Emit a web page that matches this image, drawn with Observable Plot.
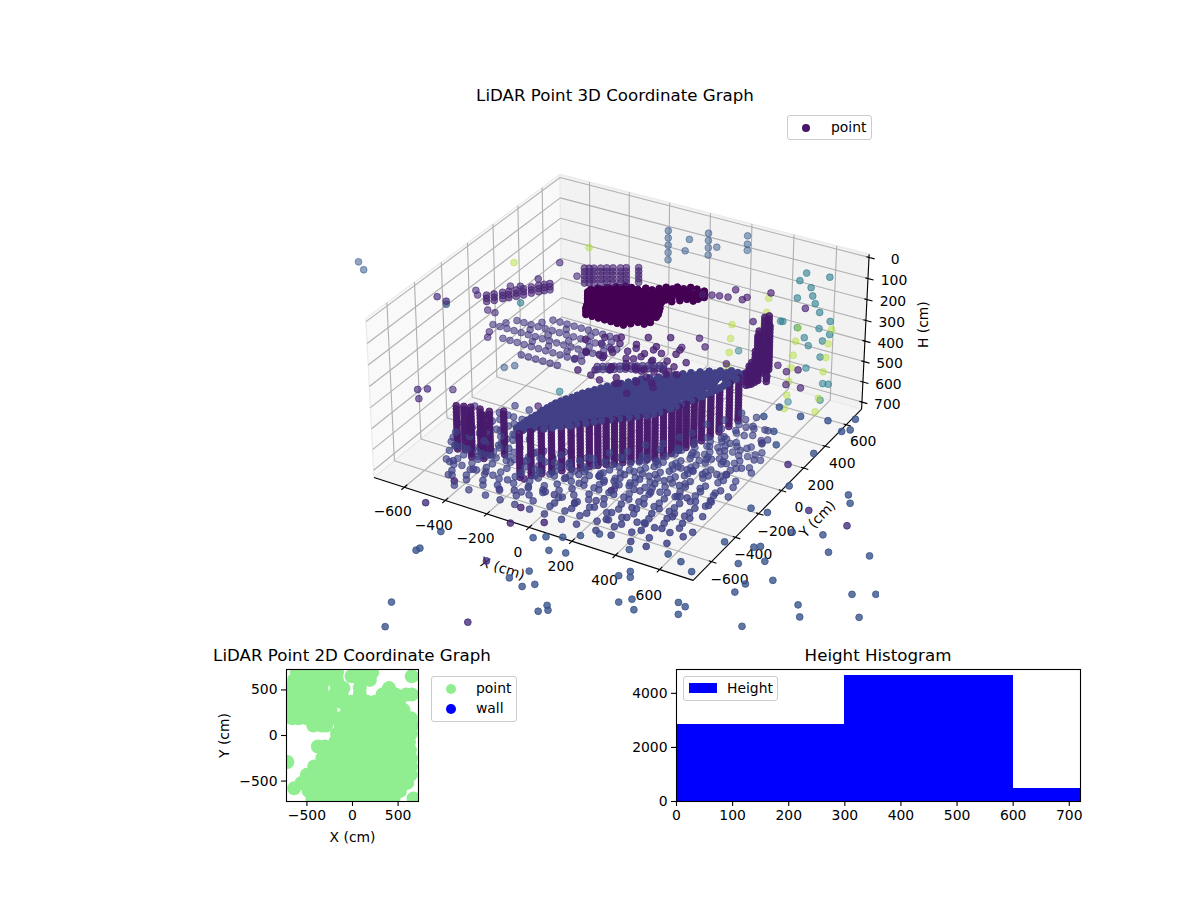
<!DOCTYPE html>
<html><head><meta charset="utf-8">
<script src="https://cdn.jsdelivr.net/npm/d3@7"></script>
<script src="https://cdn.jsdelivr.net/npm/@observablehq/plot@0.6"></script>
<style>
html,body{margin:0;padding:0;background:#fff;font-family:"DejaVu Sans",sans-serif;color:#000}
#page{position:relative;width:1200px;height:900px;overflow:hidden}
#page svg{position:absolute}
.t{position:absolute;transform:translateX(-50%);font-size:16.67px;white-space:nowrap;line-height:20px}
.lg{position:absolute;background:rgba(255,255,255,.8);border:1px solid #ccc;border-radius:3px;box-sizing:border-box;font-size:13.9px}
.lg span{position:absolute;line-height:16px;white-space:nowrap}
.lg i{position:absolute;display:block;border-radius:50%}
.lg b{position:absolute;display:block}
</style></head><body><div id="page"></div>
<script>
// ---------- chart values (X cm, Y cm, H cm) ----------
const xTicks=[-600,-400,-200,0,200,400,600];
const yTicks=[-600,-400,-200,0,200,400,600];
const hTicks=[0,100,200,300,400,500,600,700];

const plateHeights=[170,185,200];
const plateRows=[
[50,[-205,-175,-145,-115,-85,-55,-25]],
[75,[-215,-185,-155,-125,-95,-65,-35,-5]],
[100,[-225,-195,-165,-135,-105,-75,-45,-15,15,45]],
[125,[-240,-210,-180,-150,-120,-90,-60,-30,0,30,60]],
[150,[-255,-225,-195,-165,-135,-105,-75,-45,-15,15,45]],
[175,[-270,-240,-210,-180,-150,-120,-90,-60,-30,0,30,60]],
[200,[-270,-250,-220,-190,-160,-130,-100,-70,-40,-10,20,55]],
[225,[-250,-230,-200,-170,-140,-110,-80,-50,-20,10,45]],
[250,[-220,-200,-185,-155,-125,-95,-65,-35,-5,35]],
[275,[-190,-170,-140,-110,-80,-50,-20,10]],
[300,[-160,-130,-100,-70,-40,-10,15]],
[325,[-75,-45,-15,20,50]],
[350,[-25,5,35,75]],
[375,[-5,25,60,95,125]],
[400,[35,65,100,135]],
[425,[85,115,150]]];

const sheetHeights=[500];
const sheetRows=[
[-450,[-240,-210]],
[-425,[-240,-210,-180]],
[-400,[-235,-205,-175,-140]],
[-375,[-235,-205,-175,-145,-115]],
[-350,[-230,-200,-170,-140,-110,-90]],
[-325,[-225,-195,-165,-135,-105,-75,-60]],
[-300,[-220,-190,-160,-130,-100,-70,-45]],
[-275,[-220,-190,-160,-130,-100,-70,-40,-15]],
[-250,[-215,-185,-155,-125,-95,-65,-35,-5,10]],
[-225,[-210,-180,-150,-120,-90,-60,-30,0,30]],
[-200,[-205,-175,-145,-115,-85,-55,-25,5,35,57]],
[-175,[-195,-165,-135,-105,-75,-45,-15,15,45,85]],
[-150,[-185,-155,-125,-95,-65,-35,-5,25,55,85,115]],
[-125,[-170,-140,-110,-80,-50,-20,10,40,70,100,140]],
[-100,[-160,-130,-100,-70,-40,-10,20,50,80,110,140,170]],
[-75,[-150,-120,-90,-60,-30,0,30,60,90,120,150,190]],
[-50,[-135,-105,-75,-45,-15,15,45,75,105,135,165,205]],
[-25,[-120,-90,-60,-30,0,30,60,90,120,150,180,215]],
[0,[-105,-75,-45,-15,15,45,75,105,135,165,195,230]],
[25,[-90,-60,-30,0,30,60,90,120,150,180,210,240]],
[50,[-70,-40,-10,20,50,80,110,140,170,200,230,250]],
[75,[-50,-20,10,40,70,100,130,160,190,220,260]],
[100,[-30,0,30,60,90,120,150,180,210,240,272]],
[125,[-10,20,50,80,110,140,170,200,230,260,285]],
[150,[5,35,65,95,125,155,185,215,245,275,295]],
[175,[30,60,90,120,150,180,210,240,270,300]],
[200,[60,90,120,150,180,210,240,270,310]],
[225,[85,115,145,175,205,235,265,295,320]],
[250,[110,140,170,200,230,260,290,325]],
[275,[135,165,195,225,255,285,330]],
[300,[160,190,220,250,280,335]],
[325,[190,220,250,280,310,340]],
[350,[220,250,280,310,350]],
[375,[260,290,320,352]],
[400,[300,330,355]]];

const wallLevels=[505,520,535,550,565,580,595,610,625,640,655,670,685,700,715];
const wallColumns=[
[-212,-475],[-180,-440],[-150,-405],[-120,-375],[-90,-345],[-62,-315],[-35,-288],[-8,-260],
[18,-235],[44,-212],[70,-188],[96,-165],[122,-142],[148,-118],[172,-95],[196,-72],
[215,-35],[235,0],[250,35],[265,70],[280,110],[295,150],[310,200],[325,250],[340,310],[352,370],
[-555,-416],[-525,-405],[-497,-396],[-455,-390],[-412,-386],[-362,-355],[-470,-440],[-420,-425]];

const towerLevels=[250,265,280,295,310,325,340,355,370,385,400,415,430,445,460,475,490,505,520,535,550];
const towerColumns=[
[410,480,250,520],[420,500,250,500],[400,440,320,540],[385,420,440,550],[370,400,480,550],[415,520,300,520],[395,460,300,550],[390,440,400,550],[378,410,460,550],[430,470,340,550]];

const arcRows=[
[-150,[-400,-365,-330,-295,-260,-225]],
[-70,[-540,-505,-470,-435,-400,-365,-330,-295,-260,-225,-190,-155]],
[10,[-640,-605,-570,-535,-500,-465,-430,-395,-360,-325,-290,-255,-220,-185,-150,-115]],
[90,[-570,-535,-500,-465,-430,-395,-360,-325,-290,-255,-220,-185,-150,-115,-80]],
[170,[-440,-405,-370,-335,-300,-265,-230,-195,-160]],
[-30,[-420,-340,-250,-180]],
[50,[-600,-480,-390,-290,-190,-120]],
[130,[-470,-350,-230,-130]]];
const arcHeight=350;

const bandHeights=[380,395];
const bandPoints=[[-104,-31],[-84,-19],[-64,-6],[-44,6],[-24,19],[-4,31],[16,44],[36,56],[56,69],[76,81],[96,94],[116,106],[131,115]];

const backArcHeights=[90,105,120];
const backArc=[[-542,-184],[-520,-160],[-498,-130],[-480,-110],[-460,-85],[-440,-60],[-420,-30],[-400,-5],[-385,15],[-368,33]];
const backColumnHeights=[55,72,90,108,125];
const backColumns=[[-279,164],[-245,185],[-221,200],[-177,227],[-130,256],[-86,283],[-262,175],[-200,214],[-150,242]];

const clutterRows=[
[-680,700,[-400,-330,-250,-180,-110,-40,30,110,180,270,340,430,500]],
[-620,700,[-450,-380,-300,-220,-140,-60,20,90,160,240,320,400,480,560]],
[-560,690,[-480,-400,-330,-260,-190,-120,-50,25,100,170,250,320,390,470,540,600]],
[-500,700,[-500,-430,-360,-290,-220,-150,-80,-10,60,130,200,270,340,410,480,550,610]],
[-440,680,[-520,-440,-370,-300,-230,-160,-90,-20,50,120,190,260,330,400,470,540]],
[-380,700,[-470,-400,-330,-250,-180,-100,-30,40,110,180,250,320,390,460,530,590]],
[-320,690,[-400,-310,-240,-150,-70,10,80,150,220,290,360,430,500,570]],
[-260,700,[140,210,280,350,420,490,560]],
[-200,700,[200,270,340,410,480,550,610]],
[-140,690,[250,320,390,460,530,600]],
[-80,700,[300,370,440,510,580]],
[-20,680,[340,410,480,550,620]],
[40,700,[370,440,510,580]],
[100,690,[400,470,540,600]],
[170,700,[420,500,570]],
[240,690,[450,530]],
[-650,655,[-430,-360,-280,-210,-130,-60,60,140,210,300,370,460]],
[-590,660,[-480,-420,-350,-270,-200,-100,-20,60,130,210,290,360,440,520]],
[-530,650,[-520,-450,-380,-310,-240,-170,-90,0,70,150,220,300,370,440,510,580]],
[-470,660,[-530,-470,-400,-330,-260,-190,-120,-50,30,90,160,230,300,370,440,510,580]],
[-410,650,[-560,-490,-420,-350,-280,-210,-130,-60,10,80,150,220,290,360,430,500,570]],
[-350,660,[-540,-440,-370,-290,-210,-130,-50,20,110,190,260,340,410,470,540,600]],
[-290,650,[-520,-440,-360,-280,-80,30,120,200,260,330,400,460,530,590]],
[-230,660,[-500,-420,-350,170,240,310,380,450,520,590]],
[-170,650,[-460,-390,220,290,360,430,500,570]],
[-110,660,[270,340,410,480,550]],
[-50,650,[310,380,450,520,590]],
[10,660,[340,410,480,550]],
[70,650,[380,450,520,590]],
[130,660,[400,470,540]],
[200,650,[430,510,580]],
[280,660,[470,540]],
[-450,610,[-540,-470,-400,-330,-280,-130,-60,10,80,150,220,290]],
[-400,600,[-560,-490,-420,-350,-290,-60,30,100,170,240,310,380]],
[-340,615,[-540,-460,-390,-320,40,110,180,250,320,390,460]],
[-280,605,[-500,-430,-360,-290,100,170,240,310,380,450]],
[-220,615,[-470,-400,-330,150,220,290,360,430,500]],
[-160,600,[-430,-360,200,270,340,410,480]],
[-100,610,[250,320,390,460,530]],
[-30,605,[290,360,430,500]],
[40,615,[310,380,450,520]],
[110,600,[340,410,480]],
[190,610,[380,450,520]],
[270,605,[420,490]]];

const clutterLoose=[[-455,-640,688],[-375,-575,672],[-292,-608,640],[-205,-645,676],[-128,-600,690],[-42,-572,668],[38,-615,642],[115,-585,676],[196,-552,655],[282,-602,690],
[358,-545,640],[437,-578,672],[515,-495,660],[-512,-500,640],[-418,-470,680],[-345,-515,628],[-268,-428,672],[-185,-462,632],[-108,-525,648],[-22,-428,682],
[62,-462,622],[142,-398,668],[218,-436,640],[296,-372,676],[372,-418,632],[452,-342,668],[522,-388,628],[588,-305,672],[-478,-365,642],[-382,-305,672],
[-295,-345,622],[-205,-300,680],[-118,-278,668],[-32,-245,690],[48,-210,682],[128,-240,640],[208,-172,668],[282,-215,628],[358,-142,672],[438,-190,632],
[512,-118,668],[582,-165,622],[310,-82,632],[392,-48,676],[468,-12,628],[545,-62,668],[612,18,640],[365,68,676],[442,95,632],[518,62,672],
[590,128,628],[398,158,668],[472,212,628],[552,205,676],[438,272,632],[520,292,668],[-560,-455,660],[-590,-395,680],[-530,-540,690],[-462,-590,650]];

const clutterDark=[[-418,-653,700],[-178,-497,700],[-53,-805,700],[62,-734,700],[175,-396,700],[75,-323,700],[-77,-687,700]];

const underPlate=[[-190,20,300],[-150,-40,320],[-120,60,290],[-90,0,340],[-60,-60,310],[-30,30,280],[0,-100,330],[30,60,300],[60,0,350],[90,100,310],
[120,-30,330],[150,60,290],[180,130,320],[200,10,350],[-160,100,350],[-110,140,330],[-70,110,300],[-20,150,340],[20,180,310],[70,160,330],
[110,210,300],[160,200,340],[-40,-20,370],[10,-70,380],[50,-120,370],[-100,-90,390],[-150,-110,370],[100,-60,380],[150,-20,390],[190,-80,370],
[240,30,350],[250,90,320],[-200,-50,360],[-30,80,400],[40,40,390],[90,40,410],[130,110,400],[-80,30,420],[-10,-40,430],[60,-70,440],
[-170,-10,340],[-130,30,360],[-95,70,345],[-60,20,325],[-25,-50,350],[5,20,335],[35,-30,345],[65,40,320],[95,-10,355],[125,30,315],
[155,100,345],[185,60,365],[215,50,330],[-45,120,365],[-5,100,380],[30,130,360],[75,110,375],[110,70,395],[-115,-30,400],[-70,-70,415]];

const purpleLoose=[[114,300,390],[225,300,356],[198,300,322],[567,300,346],[607,300,365],[660,300,341],[674,300,423],[607,300,427],[518,300,413],[327,300,408],
[447,300,173],[425,500,139],[116,400,177],[156,400,173],[200,400,163],[236,400,157],[276,400,152],[311,400,108],[343,400,146],[365,400,129],
[538,600,229],[-353,-100,610]];

const upperLeft=[[-709,-300,88],[-665,-300,97],[-715,0,201],[-707,0,221],[-658,0,280],[-622,0,283],[-653,0,384],[-662,0,413],[-542,0,134],[-493,0,121],[-404,0,62],[-482,300,145],[-397,300,187],
[-687,-500,423],[-638,-500,406],[-683,-500,466],[-647,-300,514],[-540,-300,562]];

const blueFar=[[-665,-300,111],[-582,0,538],[-529,0,514],
[-119,595,30],[-119,595,65],[-119,595,100],[-119,595,135],[-119,595,170],
[27,685,45],[27,685,80],[27,685,115],[27,685,150],
[169,773,60],[169,773,100],[169,773,130],[-30,620,60],[-50,620,120],[60,700,110]];
const paleLeft=[[-735,-800,-297],[-712,-800,-268]];

const tealFar=[[538,600,61],[508,600,105],[645,600,52],[561,600,124],[570,600,161],[499,600,190],[583,600,194],[605,600,230],[655,600,259],[504,600,331],
[605,600,307],[655,600,322],[538,600,370],[623,600,362],[558,600,403],[615,600,442],[551,600,514],[632,600,567],[658,600,562],[623,600,651],[472,600,704],
[228,600,522],[424,600,322],[435,600,320],[-493,0,200],[-307,0,576]];

const greenFar=[[365,600,228],[358,600,298],[347,600,365],[193,600,403],[188,600,473],[183,600,543],[174,600,613],[508,600,331],[664,600,295],[498,600,398],
[650,600,368],[489,600,469],[642,600,437],[481,600,533],[632,600,509],[472,600,603],[465,600,673],[615,600,644],[455,600,743],[602,600,715],[-585,100,80],[-396,400,95]];

const outerBlue=[[-530,-600,1014],[-660,-600,1151],[-640,-600,1134],[-98,-600,1067],[-196,-600,1134],[-134,-600,1156],[-72,-600,1124],[-800,-600,1465],[-840,-600,1608],[-58,-600,1254],
[-14,-600,1209],[-10,-600,1232],[328,-600,945],[382,-600,906],[382,-600,934],[390,-600,1038],[328,-600,1074],[399,-600,1087],[-1,-600,932],[79,-600,918],
[377,-600,802],[-76,-600,895],[66,-600,846],[150,-600,810],[239,-600,773],[-14,-600,870],[555,-600,764],[613,-600,781],[662,-600,812],[604,-600,980],
[635,-600,990],[604,-600,1038],[585,0,1470],[547,0,1307],[596,0,1249],[724,0,1187],[700,300,1500],[710,300,1560],[810,700,1770],[770,700,1660],
[885,700,1620],[560,0,1158],[684,0,1105],[631,0,1052],[662,0,1038],[660,300,1139],[740,500,1330],[845,700,1430],[710,500,1250],[740,700,1190],
[730,700,1150],[638,300,913],[689,0,861],[613,0,865],[493,0,1071],[651,500,855],[571,300,730],[684,700,841],[724,700,821],[746,700,761],
[617,700,807],[631,400,625],[558,300,668],[509,300,610],[580,300,543]];
const outerPurple=[[-307,-600,1087],[-601,-600,894],[-410,-600,1433],[730,700,1310],[638,500,1148],[629,300,809]];

const planRows=[
[690,[-610,-520,-430,-340,-250,-170,20,100,215]],
[650,[-10,650]],
[610,[-640,-550,-460,-370,-300,-220,-170,80,190]],
[520,[-680,-590,-500,-410,-340,-170,-100,80,400]],
[450,[-680,-590,-500,-410,-330,-200,-120,80,330,400,470,590,650]],
[370,[-680,-590,-500,-410,-320,-230,-130,-20,70,160,250,340,430,510]],
[280,[-680,-590,-500,-410,-320,-240,-60,30,120,210,300,390,480,560]],
[190,[-660,-590,-500,-410,-320,-240,-140,-50,40,130,220,310,400,490,580,640]],
[110,[-430,-340,-290,-130,-40,50,140,230,320,410,500,590,650]],
[20,[-170,-80,10,100,190,280,370,460,550,640]],
[-70,[-190,-100,-10,80,170,260,350,440,530,620]],
[-120,[-380,-305]],
[-160,[-250,-160,-70,20,110,200,290,380,470,560,630]],
[-250,[-330,-240,-150,-60,30,120,210,300,390,480,570,640]],
[-290,[-715]],
[-340,[-420,-330,-240,-150,-60,30,120,210,300,390,480,570,640]],
[-430,[-500,-410,-320,-230,-140,-50,40,130,220,310,400,490,580,640]],
[-520,[-560,-470,-380,-290,-200,-110,-20,70,160,250,340,430,520,600]],
[-580,[-640]],
[-610,[-480,-390,-300,-210,-120,-30,60,150,240,330,420,520]],
[-690,[-440,-350,-260,-170,-80,10,100,190,280,370,450,670]]];

const histLeft=[0,300,600];
const histRight=[300,600,720];
const histCount=[2850,4650,480];
const histXTicks=[0,100,200,300,400,500,600,700];
const histYTicks=[0,2000,4000];
const planTicks=[-500,0,500];

// ---------- matplotlib style camera (elev 30, azim -60, box aspect 1:1:0.5) ----------
const lim=750, hTop=-15, hBottom=735, boxS=1.27, boxH=0.635;
const rad=Math.PI/180, el=30*rad, az=-60*rad;
const dir=[Math.cos(el)*Math.cos(az),Math.cos(el)*Math.sin(az),Math.sin(el)];
const eye=[boxS/2+10*dir[0],boxS/2+10*dir[1],boxH/2+10*dir[2]];
const ux=[-dir[1],dir[0],0], un=Math.hypot(ux[0],ux[1]); ux[0]/=un; ux[1]/=un;
const vx=[dir[1]*ux[2]-dir[2]*ux[1],dir[2]*ux[0]-dir[0]*ux[2],dir[0]*ux[1]-dir[1]*ux[0]];
const dot3=(a,b)=>a[0]*b[0]+a[1]*b[1]+a[2]*b[2];
function view(x,y,h){
  const p=[(x+lim)/(2*lim)*boxS-eye[0],(y+lim)/(2*lim)*boxS-eye[1],(hBottom-h)/(hBottom-hTop)*boxH-eye[2]];
  const d=-dot3(dir,p);
  return {u:dot3(ux,p)/d,v:dot3(vx,p)/d,d};
}
const pu=p=>view(p[0],p[1],p[2]).u, pv=p=>view(p[0],p[1],p[2]).v;

// ---------- assemble the point table ----------
const pts=[];
const add=(x,y,h,c,lo=0,hi=1)=>{
  const q=view(x,y,h);
  const a=Math.max(0.3,Math.min(1,1-(q.d-9.2)/(10.8-9.2)*0.7));
  pts.push({u:q.u,v:q.v,d:q.d,c,a:Math.max(lo,Math.min(hi,a))});
};
plateRows.forEach(([y,xs])=>xs.forEach(x=>plateHeights.forEach(h=>add(x,y,h,0.0,1))));
sheetRows.forEach(([y,xs])=>xs.forEach(x=>sheetHeights.forEach(h=>add(x,y,h,0.19,1))));
wallColumns.forEach(([x,y])=>wallLevels.forEach(h=>add(x,y,h,0.07,0.85)));
towerColumns.forEach(([x,y,a,b])=>towerLevels.filter(h=>h>=a&&h<=b).forEach(h=>add(x,y,h,0.07,0.85)));
arcRows.forEach(([y,xs])=>xs.forEach(x=>add(x,y,arcHeight,0.16,0.6)));
bandPoints.forEach(([x,y])=>bandHeights.forEach(h=>add(x,y,h,0.15,0.7)));
backArc.forEach(([x,y])=>backArcHeights.forEach(h=>add(x,y,h,0.1,0.6)));
backColumns.forEach(([x,y])=>backColumnHeights.forEach(h=>add(x,y,h,0.1,0.6)));
clutterRows.forEach(([y,h,xs])=>xs.forEach(x=>add(x,y,h,0.2,0.65)));
clutterLoose.forEach(([x,y,h])=>add(x,y,h,0.19,0.65));
clutterDark.forEach(([x,y,h])=>add(x,y,h,0.1,0.8));
underPlate.forEach(([x,y,h])=>add(x,y,h,0.09,0.75));
purpleLoose.forEach(([x,y,h])=>add(x,y,h,0.09,0.65));
upperLeft.forEach(([x,y,h])=>add(x,y,h,0.12,0.6));
blueFar.forEach(([x,y,h])=>add(x,y,h,0.28));
paleLeft.forEach(([x,y,h])=>add(x,y,h,0.28,0,0.55));
tealFar.forEach(([x,y,h])=>add(x,y,h,0.42,0,0.6));
greenFar.forEach(([x,y,h])=>add(x,y,h,0.88,0,0.45));
outerBlue.forEach(([x,y,h])=>add(x,y,h,0.26,0.8));
outerPurple.forEach(([x,y,h])=>add(x,y,h,0.14,0.8));
pts.sort((a,b)=>b.d-a.d);

const fmt=d=>String(d).replace("-","\u2212");
const seg=(a,b)=>({a,b});
const grid=[
 ...xTicks.flatMap(x=>[seg([x,-lim,hBottom],[x,lim,hBottom]),seg([x,lim,hBottom],[x,lim,hTop])]),
 ...yTicks.flatMap(y=>[seg([-lim,y,hBottom],[lim,y,hBottom]),seg([-lim,y,hBottom],[-lim,y,hTop])]),
 ...hTicks.flatMap(h=>[seg([-lim,-lim,h],[-lim,lim,h]),seg([-lim,lim,h],[lim,lim,h])])];
const axesLines=[seg([-lim,-lim,hBottom],[lim,-lim,hBottom]),seg([lim,-lim,hBottom],[lim,lim,hBottom]),seg([lim,lim,hBottom],[lim,lim,hTop])];
const tickMarks=[
 ...xTicks.map(x=>seg([x,-lim+22,hBottom],[x,-lim-22,hBottom])),
 ...yTicks.map(y=>seg([lim-12,y,hBottom],[lim+22,y,hBottom])),
 ...hTicks.map(h=>seg([lim-12,lim,h],[lim+26,lim,h]))];
const pane=(c,fill)=>Plot.line([...c,c[0]],{x:pu,y:pv,fill,stroke:"#eaeaea",strokeWidth:1.2});
const linkOf=(data,o)=>Plot.link(data,{x1:d=>pu(d.a),y1:d=>pv(d.a),x2:d=>pu(d.b),y2:d=>pv(d.b),...o});
const txt=(data,o)=>Plot.text(data,{x:d=>pu(d.p),y:d=>pv(d.p),text:"t",fontSize:13.9,fill:"#000",...o});

const plot3d=Plot.plot({
 width:1200,height:640,marginLeft:351,marginRight:321,marginTop:108,marginBottom:4,
 style:{fontFamily:"DejaVu Sans",background:"transparent"},
 x:{domain:[-0.095,0.09],axis:null},y:{domain:[-0.095,0.09],axis:null},
 color:{type:"linear",scheme:"viridis",domain:[0,1]},
 marks:[
  pane([[-lim,-lim,hBottom],[-lim,lim,hBottom],[-lim,lim,hTop],[-lim,-lim,hTop]],"#f9f9f9"),
  pane([[-lim,lim,hBottom],[lim,lim,hBottom],[lim,lim,hTop],[-lim,lim,hTop]],"#f2f2f2"),
  pane([[-lim,-lim,hBottom],[lim,-lim,hBottom],[lim,lim,hBottom],[-lim,lim,hBottom]],"#f5f5f5"),
  linkOf(grid,{stroke:"#b0b0b0",strokeWidth:1.1}),
  linkOf(axesLines,{stroke:"#000",strokeWidth:1.1}),
  linkOf(tickMarks,{stroke:"#000",strokeWidth:1.1}),
  txt(xTicks.map(x=>({p:[x,-lim-85,hBottom],t:fmt(x)})),{dy:15}),
  txt(yTicks.map(y=>({p:[lim+80,y,hBottom],t:fmt(y)})),{dy:12}),
  txt(hTicks.map(h=>({p:[lim+120,lim,h],t:fmt(h)})),{dy:-5}),
  txt([{p:[0,-lim-200,hBottom],t:"X (cm)"}],{dy:17,rotate:18}),
  txt([{p:[lim+250,-170,hBottom],t:"Y (cm)"}],{dy:-8,rotate:-46}),
  txt([{p:[lim+270,lim,360],t:"H (cm)"}],{dy:-24,rotate:-90}),
  Plot.dot(pts,{x:"u",y:"v",r:3.4,fill:"c",stroke:"c",strokeWidth:1,fillOpacity:"a",strokeOpacity:"a",clip:"frame"})
 ]});

const plan=planRows.flatMap(([y,xs])=>xs.map(x=>({x,y})));
const commonStyle={fontFamily:"DejaVu Sans",fontSize:"13.9px",background:"transparent"};
const plot2d=Plot.plot({
 width:320,height:200,marginLeft:86,marginRight:102,marginTop:9,marginBottom:59,style:commonStyle,
 x:{domain:[-724,724]},y:{domain:[-724,724]},
 marks:[
  Plot.dot(plan,{x:"x",y:"y",r:7,fill:"#90EE90",clip:"frame"}),
  Plot.frame({stroke:"#000",strokeWidth:1.1}),
  Plot.axisX({ticks:planTicks,tickSize:5,tickPadding:4,tickFormat:fmt,label:"X (cm)",labelAnchor:"center",labelArrow:"none",labelOffset:40,fontSize:13.9,strokeWidth:1.1}),
  Plot.axisY({ticks:planTicks,tickSize:5,tickPadding:4,tickFormat:fmt,label:"Y (cm)",labelAnchor:"center",labelArrow:"none",labelOffset:67,fontSize:13.9,strokeWidth:1.1})
 ]});

const hist=histCount.map((n,i)=>({a:histLeft[i],b:histRight[i],n}));
const plotH=Plot.plot({
 width:480,height:200,marginLeft:66,marginRight:10,marginTop:9,marginBottom:59,style:commonStyle,
 x:{domain:[0,720]},y:{domain:[0,4882]},
 marks:[
  Plot.rectY(hist,{x1:"a",x2:"b",y:"n",fill:"#0000ff",shapeRendering:"crispEdges"}),
  Plot.frame({stroke:"#000",strokeWidth:1.1}),
  Plot.axisX({ticks:histXTicks,tickSize:5,tickPadding:4,label:null,fontSize:13.9,strokeWidth:1.1}),
  Plot.axisY({ticks:histYTicks,tickSize:5,tickPadding:4,label:null,tickFormat:d=>String(d),fontSize:13.9,strokeWidth:1.1})
 ]});

const page=document.getElementById("page");
const place=(el,l,t)=>{el.style.left=l+"px";el.style.top=t+"px";page.appendChild(el);};
place(plot3d,0,0);place(plot2d,200,660);place(plotH,610,660);
function html(s){const d=document.createElement("div");d.innerHTML=s;page.appendChild(d.firstChild);}
html('<div class="t" style="left:615px;top:86px">LiDAR Point 3D Coordinate Graph</div>');
html('<div class="t" style="left:352px;top:646px">LiDAR Point 2D Coordinate Graph</div>');
html('<div class="t" style="left:878px;top:646px">Height Histogram</div>');
html('<div class="lg" style="left:787px;top:115px;width:85px;height:25px"><i style="left:14px;top:8px;width:8px;height:8px;background:#47166b"></i><span style="left:43px;top:3px">point</span></div>');
html('<div class="lg" style="left:431px;top:676px;width:86px;height:46px"><i style="left:14px;top:7px;width:10px;height:10px;background:#90EE90"></i><span style="left:44px;top:3px">point</span><i style="left:14px;top:27px;width:10px;height:10px;background:#0000ff"></i><span style="left:44px;top:23px">wall</span></div>');
html('<div class="lg" style="left:683px;top:676px;width:95px;height:25px"><b style="left:5px;top:6px;width:28px;height:10px;background:#0000ff"></b><span style="left:43px;top:3px">Height</span></div>');
</script></body></html>
